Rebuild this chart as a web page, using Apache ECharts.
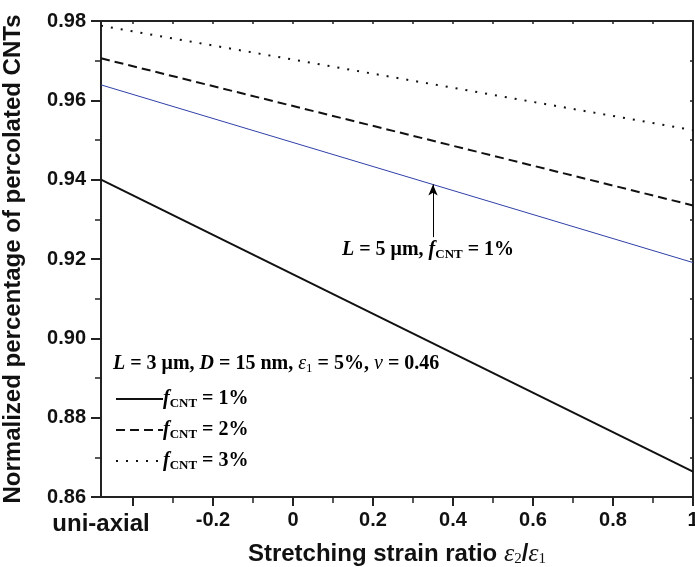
<html>
<head>
<meta charset="utf-8">
<script src="https://cdn.jsdelivr.net/npm/echarts@6/dist/echarts.min.js"></script>
<style>
  body { margin: 0; background: #fff; }
  #main { width: 695px; height: 567px; }
</style>
</head>
<body>
<div id="main"></div>
<script>
  // strain ratio e2/e1 at the two ends (uni-axial = -0.48 .. 1)
  var xEnds = [-0.48, 1];
  // normalized percentage of percolated CNTs, L = 3 um
  var fcnt1 = [0.9400, 0.8664];
  var fcnt2 = [0.9706, 0.9335];
  var fcnt3 = [0.9788, 0.9525];
  // L = 5 um, fcnt = 1%
  var longL5 = [0.9639, 0.9191];
  var legendPct = ['1%', '2%', '3%'];
  var xLabelValues = [-0.48, -0.2, 0, 0.2, 0.4, 0.6, 0.8, 1];
  var xMajorTicks = [-0.4, -0.2, 0, 0.2, 0.4, 0.6, 0.8, 1];
  var xMinorTicks = [-0.3, -0.1, 0.1, 0.3, 0.5, 0.7, 0.9];
  var xAllTicks = [-0.4, -0.3, -0.2, -0.1, 0, 0.1, 0.2, 0.3, 0.4, 0.5, 0.6, 0.7, 0.8, 0.9, 1];
  // arrow from label up to the blue line
  var arrowX = 0.35, arrowFrom = 0.9255, arrowTo = 0.9388;

  var sans = '"Liberation Sans", Arial, sans-serif';
  var serif = '"Liberation Serif", "Times New Roman", serif';
  var axisCol = '#222';

  function pts(ys) { return xEnds.map(function (x, i) { return [x, ys[i]]; }); }

  var serifRich = {
    n: { fontFamily: serif, fontWeight: 'bold', fontSize: 20, color: '#000' },
    i: { fontFamily: serif, fontWeight: 'bold', fontStyle: 'italic', fontSize: 20, color: '#000' },
    e: { fontFamily: serif, fontStyle: 'italic', fontSize: 20, color: '#000' },
    s: { fontFamily: serif, fontWeight: 'bold', fontSize: 13, color: '#000', padding: [9, 0, 0, 0] },
    s1: { fontFamily: serif, fontSize: 13, color: '#000', padding: [9, 0, 0, 0] }
  };

  var myChart = echarts.init(document.getElementById('main'));
  var option = {
    animation: false,
    grid: { left: 101, right: 2, top: 21, bottom: 70, containLabel: false, outerBoundsMode: 'none' },
    xAxis: [{
      type: 'value', min: -0.48, max: 1, position: 'bottom',
      name: '{a|Stretching strain ratio }{e|ε}{s|2}{a|/}{e|ε}{s|1}',
      nameLocation: 'middle', nameGap: 41,
      nameTextStyle: {
        fontFamily: sans, fontWeight: 'bold', fontSize: 24, color: '#111',
        rich: {
          a: { fontFamily: sans, fontWeight: 'bold', fontSize: 24, color: '#111' },
          e: { fontFamily: serif, fontStyle: 'italic', fontWeight: 'normal', fontSize: 26, color: '#111' },
          s: { fontFamily: serif, fontWeight: 'normal', fontSize: 15, color: '#111', padding: [11, 0, 0, 0] }
        }
      },
      axisLine: { onZero: false, lineStyle: { color: axisCol, width: 2 } },
      axisTick: { show: true, length: 9, lineStyle: { color: axisCol, width: 2 }, customValues: xMajorTicks },
      axisLabel: {
        show: true, margin: 13, customValues: xLabelValues,
        fontFamily: sans, fontWeight: 'bold', fontSize: 20, color: '#111',
        formatter: function (v) { return v < -0.3 ? '{u|uni-axial}' : String(v); },
        rich: { u: { fontFamily: sans, fontWeight: 'bold', fontSize: 24, color: '#111', padding: [2, 0, 0, 0] } }
      },
      splitLine: { show: false }
    }, {
      type: 'value', min: -0.48, max: 1, position: 'bottom',
      axisLine: { show: false, onZero: false },
      axisTick: { show: true, length: 6, lineStyle: { color: axisCol, width: 1.5 }, customValues: xMinorTicks },
      axisLabel: { show: false }, splitLine: { show: false }
    }, {
      type: 'value', min: -0.48, max: 1, position: 'top',
      axisLine: { show: true, onZero: false, lineStyle: { color: axisCol, width: 2 } },
      axisTick: { show: true, inside: true, length: 3, lineStyle: { color: axisCol, width: 1.5 }, customValues: xAllTicks },
      axisLabel: { show: false }, splitLine: { show: false }
    }],
    yAxis: [{
      type: 'value', min: 0.86, max: 0.98, interval: 0.02, position: 'left',
      name: 'Normalized percentage of percolated CNTs',
      nameLocation: 'middle', nameGap: 76,
      nameTextStyle: { fontFamily: sans, fontWeight: 'bold', fontSize: 24, color: '#111' },
      axisLine: { show: true, onZero: false, lineStyle: { color: axisCol, width: 2 } },
      axisTick: { show: true, length: 10, lineStyle: { color: axisCol, width: 2 } },
      minorTick: { show: true, splitNumber: 2, length: 6, lineStyle: { color: axisCol, width: 1.5 } },
      axisLabel: {
        margin: 15, fontFamily: sans, fontWeight: 'bold', fontSize: 20, color: '#111',
        formatter: function (v) { return v.toFixed(2); }
      },
      splitLine: { show: false }
    }, {
      type: 'value', min: 0.86, max: 0.98, interval: 0.02, position: 'right',
      axisLine: { show: true, onZero: false, lineStyle: { color: axisCol, width: 2 } },
      axisTick: { show: true, inside: true, length: 3, lineStyle: { color: axisCol, width: 1.5 } },
      minorTick: { show: true, splitNumber: 2, length: 3, lineStyle: { color: axisCol, width: 1.5 } },
      axisLabel: { show: false }, splitLine: { show: false }
    }],
    legend: {
      orient: 'vertical', left: 110, top: 384,
      itemWidth: 47, itemHeight: 12, itemGap: 10,
      data: ['f1', 'f2', 'f3'],
      itemStyle: { color: 'transparent', borderColor: 'transparent', borderWidth: 0 },
      formatter: function (name) {
        return '{i|f}{s|CNT}{n| = ' + legendPct[Number(name.slice(1)) - 1] + '}';
      },
      textStyle: { padding: [0, 0, 0, -5], rich: serifRich }
    },
    series: [{
      name: 'f1', type: 'line', data: pts(fcnt1), showSymbol: false, symbol: 'none',
      lineStyle: { color: '#111', width: 2, type: 'solid' }
    }, {
      name: 'f2', type: 'line', data: pts(fcnt2), showSymbol: false, symbol: 'none',
      lineStyle: { color: '#111', width: 2, type: [9, 5] }
    }, {
      name: 'f3', type: 'line', data: pts(fcnt3), showSymbol: false, symbol: 'none',
      lineStyle: { color: '#111', width: 2, type: [2, 8] }
    }, {
      name: 'L5', type: 'line', data: pts(longL5), showSymbol: false, symbol: 'none',
      lineStyle: { color: '#2f3fa6', width: 1 },
      markLine: {
        silent: true, symbol: ['none', 'arrow'], symbolSize: [7, 11],
        lineStyle: { color: '#000', width: 1, type: 'solid' },
        label: { show: false },
        data: [[{ coord: [arrowX, arrowFrom] }, { coord: [arrowX, arrowTo] }]]
      }
    }],
    graphic: [{
      type: 'text', left: 113, top: 354,
      style: {
        text: '{i|L}{n| = 3 μm, }{i|D}{n| = 15 nm, }{e|ε}{s1|1}{n| = 5%, }{e|ν}{n| = 0.46}',
        rich: serifRich
      }
    }, {
      type: 'text', left: 342, top: 240,
      style: {
        text: '{i|L}{n| = 5 μm, }{i|f}{s|CNT}{n| = 1%}',
        rich: serifRich
      }
    }]
  };
  myChart.setOption(option);
</script>
</body>
</html>
